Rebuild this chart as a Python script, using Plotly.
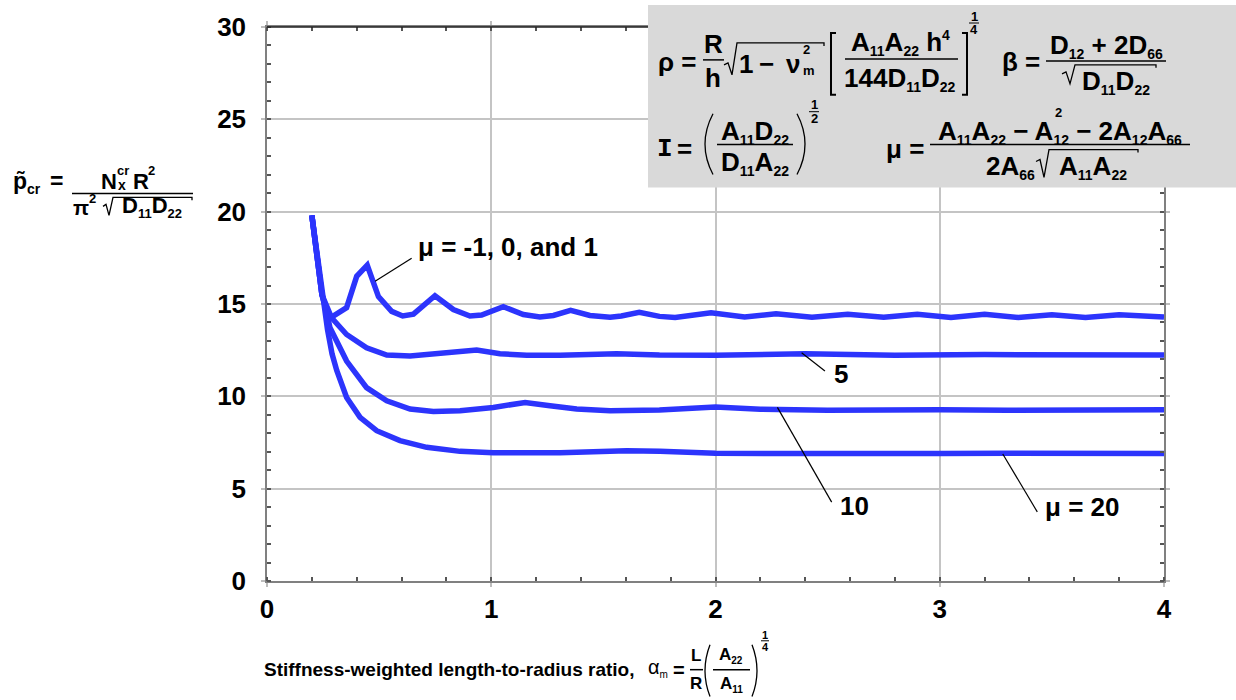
import plotly.graph_objects as go

# ---------------------------------------------------------------- data
x_ticks = [0, 1, 2, 3, 4]
y_ticks = [0, 5, 10, 15, 20, 25, 30]

# mu = -1, 0 and 1 (coincident curves)
alpha_a = [0.20, 0.245, 0.27, 0.29, 0.355, 0.40, 0.447, 0.497, 0.556, 0.605, 0.653,
           0.749, 0.831, 0.905, 0.957, 1.054, 1.143, 1.217, 1.277, 1.354, 1.44,
           1.53, 1.58, 1.66, 1.75, 1.82, 1.98, 2.13, 2.27, 2.43, 2.59, 2.75,
           2.90, 3.05, 3.20, 3.35, 3.50, 3.65, 3.80, 3.95, 4.00]
p_a = [19.8, 15.5, 14.5, 14.3, 14.8, 16.5, 17.1, 15.4, 14.6, 14.35, 14.45,
       15.45, 14.7, 14.35, 14.4, 14.85, 14.43, 14.3, 14.38, 14.65, 14.38,
       14.28, 14.35, 14.55, 14.33, 14.27, 14.52, 14.3, 14.47, 14.28, 14.45, 14.28,
       14.45, 14.27, 14.45, 14.27, 14.42, 14.27, 14.42, 14.3, 14.3]

# mu = 5
alpha_b = [0.20, 0.245, 0.288, 0.355, 0.444, 0.534, 0.638, 0.757, 0.861, 0.935,
           1.039, 1.158, 1.307, 1.455, 1.559, 1.75, 2.0, 2.4, 2.8, 3.2, 3.6, 4.0]
p_b = [19.8, 15.5, 14.25, 13.35, 12.63, 12.24, 12.18, 12.31, 12.45, 12.51,
       12.31, 12.22, 12.22, 12.27, 12.31, 12.24, 12.22, 12.3, 12.22, 12.26, 12.22, 12.24]

# mu = 10
alpha_c = [0.20, 0.245, 0.265, 0.281, 0.355, 0.444, 0.534, 0.638, 0.742, 0.861,
           1.009, 1.151, 1.262, 1.381, 1.53, 1.75, 2.0, 2.2, 2.5, 2.8, 3.0, 3.3, 3.6, 4.0]
p_c = [19.8, 15.5, 14.6, 13.71, 11.91, 10.47, 9.76, 9.31, 9.18, 9.22,
       9.40, 9.67, 9.49, 9.31, 9.22, 9.26, 9.42, 9.3, 9.25, 9.28, 9.27, 9.25, 9.27, 9.27]

# mu = 20
alpha_d = [0.20, 0.245, 0.27, 0.29, 0.311, 0.355, 0.415, 0.489, 0.593, 0.712,
           0.861, 1.009, 1.158, 1.307, 1.455, 1.604, 1.752, 2.0, 2.3, 2.6, 3.0,
           3.3, 3.6, 4.0]
p_d = [19.8, 15.5, 13.6, 12.3, 11.4, 9.94, 8.86, 8.14, 7.60, 7.24,
       7.02, 6.94, 6.92, 6.94, 7.0, 7.05, 7.02, 6.92, 6.9, 6.88, 6.9,
       6.92, 6.9, 6.9]

series = [(alpha_a, p_a), (alpha_b, p_b), (alpha_c, p_c), (alpha_d, p_d)]

# ---------------------------------------------------------------- styling
SANS = "Liberation Sans, Arial, Helvetica, sans-serif"
MONO = "Liberation Mono, Courier New, monospace"
BLUE = "rgb(44,52,252)"
F = 26      # main formula / label size
S = 14      # subscript size inside formulas

W, H = 1236, 700
PL, PR, PT, PB = 267, 1164, 25, 581   # plot-area edges in page pixels


def fx(px):
    return (px - PL) / (PR - PL)


def fy(py):
    return (PB - py) / (PB - PT)


def sb(s, size=S):
    return f"<sub><span style='font-size:{size}px'>{s}</span></sub>"


def sp(s, size=S):
    return f"<sup><span style='font-size:{size}px'>{s}</span></sup>"


fig = go.Figure()

for xs, ys in series:
    fig.add_trace(go.Scatter(x=xs, y=ys, mode="lines",
                             line=dict(color=BLUE, width=5.5),
                             showlegend=False, hoverinfo="skip"))


def T(px, py, text, size=F, anchor="left", weight="bold", family=SANS):
    fig.add_annotation(x=fx(px), y=fy(py), xref="paper", yref="paper",
                       text=text, showarrow=False, xanchor=anchor,
                       yanchor="middle", borderpad=0,
                       font=dict(family=family, size=size, color="black",
                                 weight=weight))


def L(x0, y0, x1, y1, w=1.5, color="black"):
    fig.add_shape(type="line", xref="paper", yref="paper",
                  x0=fx(x0), y0=fy(y0), x1=fx(x1), y1=fy(y1),
                  line=dict(color=color, width=w), layer="above")


def P(path, w=1.3):
    fig.add_shape(type="path", xref="paper", yref="paper", path=path,
                  line=dict(color="black", width=w), layer="above")


def poly(pts):
    return "M " + " L ".join(f"{fx(a):.5f},{fy(b):.5f}" for a, b in pts)


def paren(x_end, x_mid, y0, y1):
    ym = (y0 + y1) / 2
    return (f"M {fx(x_end):.5f},{fy(y0):.5f} Q {fx(x_mid):.5f},{fy(ym):.5f} "
            f"{fx(x_end):.5f},{fy(y1):.5f}")


# darker top frame line
L(PL, PT, PR, PT, w=1.5, color="#222222")

# formula panel
fig.add_shape(type="rect", xref="paper", yref="paper",
              x0=fx(648), x1=fx(1245), y0=fy(186), y1=fy(3),
              fillcolor="#d9d9d9", line=dict(width=0), layer="above")

# --- rho
T(657, 60, "ρ =")
T(713, 42, "R", anchor="center")
L(703, 58, 724, 58)
T(713, 76, "h", anchor="center")
P(poly([(724, 63), (728, 61), (732, 73), (737, 41), (824, 41), (824, 44)]))
T(738, 62, "1")
T(766, 62, "−", anchor="center")
T(785, 62, "ν")
T(802, 48, "2", size=13)
T(802, 69, "m", size=13)
P(poly([(836, 31), (831, 31), (831, 93), (836, 93)]), w=2)
P(poly([(962, 31), (967, 31), (967, 93), (962, 93)]), w=2)
T(900, 41, "A" + sb("11") + "A" + sb("22") + " h" + sp("4"), anchor="center")
L(845, 57, 958, 57)
T(900, 77, "144D" + sb("11") + "D" + sb("22"), anchor="center")
T(974, 14, "1", size=13, anchor="center")
L(969, 21, 979, 21, w=1)
T(974, 28, "4", size=13, anchor="center")

# --- beta
T(1001, 60, "β =")
T(1106, 44, "D" + sb("12") + " + 2D" + sb("66"), anchor="center")
L(1046, 59, 1166, 59)
P(poly([(1062, 72), (1066, 70), (1070, 82), (1075, 63), (1156, 63), (1156, 66)]))
T(1116, 80, "D" + sb("11") + "D" + sb("22"), anchor="center")

# --- I
T(656, 147, "I", size=F, family=MONO)
T(676, 147, "=")
P(paren(713, 697, 112, 173))
T(755, 130, "A" + sb("11") + "D" + sb("22"), anchor="center")
L(717, 143, 793, 143)
T(755, 161, "D" + sb("11") + "A" + sb("22"), anchor="center")
P(paren(797, 813, 112, 173))
T(814, 103, "1", size=13, anchor="center")
L(809, 110, 819, 110, w=1)
T(814, 117, "2", size=13, anchor="center")

# --- mu
T(885, 147, "μ =")
T(1060, 130, "A" + sb("11") + "A" + sb("22") + " − A" + sb("12") + " − 2A" + sb("12")
  + "A" + sb("66"), anchor="center")
T(1058, 111, "2", size=13, anchor="center")
L(930, 143, 1190, 143)
T(1010, 166, "2A" + sb("66"), anchor="center")
P(poly([(1036, 160), (1040, 158), (1044, 176), (1049, 148), (1138, 148), (1138, 151)]))
T(1093, 166, "A" + sb("11") + "A" + sb("22"), anchor="center")

# --- y-axis title
T(12, 181, "p̃" + sb("cr", 14), size=23)
T(49, 180, "=", size=23)
L(72, 192, 193, 192)
T(100, 180, "N", size=22)
T(116, 169, "cr", size=13)
T(117, 184, "x", size=14)
T(132, 180, "R", size=22)
T(147, 169, "2", size=13)
T(72, 206, "π", size=21)
T(88, 197, "2", size=13)
P(poly([(103, 205), (106, 203), (109, 214), (113, 196), (192, 196), (192, 199)]))
T(152, 206, "D" + sb("11", 13) + "D" + sb("22", 13), size=22, anchor="center")

# --- x-axis title
T(636, 670, "Stiffness-weighted length-to-radius ratio,", size=19, anchor="right")
T(647, 668, "α" + sb("m", 10), size=20, weight="normal")
T(672, 670, "=", size=20)
T(696, 656, "L", size=17, anchor="center")
L(690, 670, 703, 670)
T(696, 684, "R", size=17, anchor="center")
P(paren(710, 700, 645, 697))
T(731, 656, "A" + sb("22", 10), size=17, anchor="center")
L(713, 670, 750, 670)
T(731, 685, "A" + sb("11", 10), size=17, anchor="center")
P(paren(752, 762, 645, 697))
T(765, 635, "1", size=11, anchor="center")
L(761, 641, 769, 641, w=1)
T(765, 647, "4", size=11, anchor="center")

# ---------------------------------------------------------------- curve labels
labels = [
    ("μ = -1, 0, and 1", 0.664, 18.11, (0.482, 16.23), (0.645, 17.48)),
    ("5", 2.518, 11.21, (2.384, 12.36), (2.488, 11.37)),
    ("10", 2.548, 4.04, (2.276, 9.40), (2.518, 4.27)),
    ("μ = 20", 3.46, 4.0, (3.281, 6.88), (3.435, 3.74)),
]
for text, tx, ty, (ax0, ay0), (ax1, ay1) in labels:
    fig.add_annotation(x=tx, y=ty, xref="x", yref="y", text=text, showarrow=False,
                       xanchor="left", yanchor="middle",
                       font=dict(family=SANS, size=F, color="black", weight="bold"))
    fig.add_shape(type="line", xref="x", yref="y", x0=ax0, y0=ay0, x1=ax1, y1=ay1,
                  line=dict(color="black", width=1.2), layer="above")

# ---------------------------------------------------------------- axes
axis_common = dict(
    showline=True, linecolor="#808080", linewidth=1.5, mirror="allticks",
    ticks="outside", ticklen=4, tickcolor="#bdbdbd", tickwidth=1.5,
    showgrid=True, gridcolor="#c4c4c4", gridwidth=1.5, zeroline=False,
    tickfont=dict(family=SANS, size=F, color="black", weight="bold"),
)
fig.update_xaxes(range=[0, 4], tickvals=x_ticks, ticktext=[str(v) for v in x_ticks],
                 ticklabelstandoff=0,
                 minor=dict(dtick=0.2, ticks="inside", ticklen=4, tickcolor="#555555",
                            showgrid=False),
                 **axis_common)
fig.update_yaxes(range=[0, 30], tickvals=y_ticks, ticktext=[str(v) for v in y_ticks],
                 ticklabelstandoff=10,
                 minor=dict(dtick=1, ticks="inside", ticklen=4, tickcolor="#555555",
                            showgrid=False),
                 **axis_common)

fig.update_layout(width=W, height=H, paper_bgcolor="white", plot_bgcolor="white",
                  margin=dict(l=PL, r=W - PR, t=PT, b=H - PB),
                  showlegend=False)

fig.write_html("out.html", config={"displayModeBar": False})
